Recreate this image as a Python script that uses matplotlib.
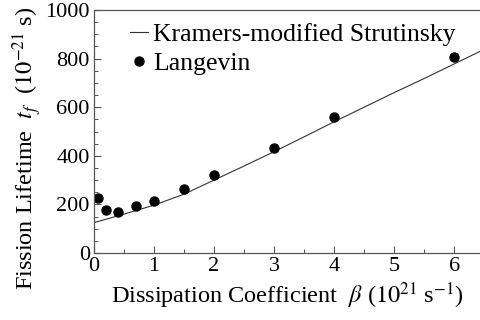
import matplotlib
matplotlib.use("Agg")
import matplotlib.pyplot as plt
from matplotlib.ticker import MultipleLocator

plt.rcParams['font.family'] = ['Liberation Serif', 'DejaVu Serif']
plt.rcParams['mathtext.fontset'] = 'stix'

# Kramers-modified Strutinsky curve
beta_curve = [0.0, 0.5, 1.0, 1.5, 2.0, 2.5, 3.0, 3.5, 4.0, 4.5, 5.0, 5.5, 6.0, 6.45]
t_curve = [125, 160, 197, 242, 300, 358, 417, 478, 540, 600, 660, 718, 778, 832]

# Langevin results
beta_lang = [0.07, 0.2, 0.4, 0.7, 1.0, 1.5, 2.0, 3.0, 4.0, 6.0]
t_lang = [228, 177, 170, 193, 215, 263, 321, 433, 561, 808]

x_ticks = [0, 1, 2, 3, 4, 5, 6]
y_ticks = [0, 200, 400, 600, 800, 1000]

fig = plt.figure(figsize=(4.8, 3.2), dpi=100)
ax = fig.add_axes([94/480, 67/320, 386/480, 243/320])

ax.plot(beta_curve, t_curve, color='#333333', lw=0.8, label='Kramers-modified Strutinsky')
ax.plot(beta_lang, t_lang, 'o', color='black', ms=6.5, label='Langevin')

ax.set_xlim(0, 6.43)
ax.set_ylim(0, 1000)
ax.set_xticks(x_ticks)
ax.set_yticks(y_ticks)
ax.xaxis.set_minor_locator(MultipleLocator(0.5))
ax.yaxis.set_minor_locator(MultipleLocator(50))
ax.tick_params(which='both', direction='in', labelsize=16, color='#555555')
ax.tick_params(which='major', length=5, width=0.8, pad=3)
ax.tick_params(which='minor', length=3, width=0.7)
ax.spines['right'].set_visible(False)
for s in ('top', 'left', 'bottom'):
    ax.spines[s].set_color('#555555')
    ax.spines[s].set_linewidth(0.9)

ax.set_xlabel(r'Dissipation Coefficient  $\beta$ ($10^{21}$ s$^{-1}$)', fontsize=17.5, labelpad=3)
ax.set_ylabel(r'Fission Lifetime  $t_f$  ($10^{-21}$ s)', fontsize=17.5)
ax.yaxis.set_label_coords(-0.13, 0.43)

ax.legend(loc='upper left', bbox_to_anchor=(0.06, 1.0), frameon=False, fontsize=18.5,
          handlelength=0.7, handletextpad=0.2, labelspacing=0.25, borderaxespad=0.1)

fig.savefig('out.png', dpi=100)
